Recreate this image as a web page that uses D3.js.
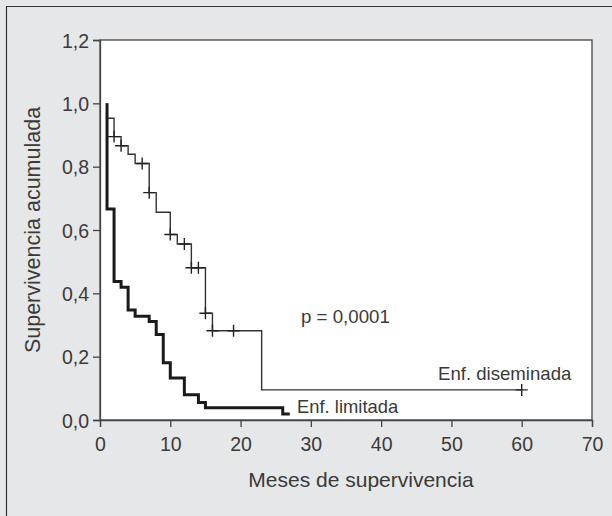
<!DOCTYPE html>
<html>
<head>
<meta charset="utf-8">
<script src="https://cdn.jsdelivr.net/npm/d3@7"></script>
<style>
  body { margin: 0; background: #e6e7e8; }
  text { font-family: "Liberation Sans", Arial, sans-serif; fill: #3a3a3a; }
</style>
</head>
<body>
<div id="chart"></div>
<script>
var width = 612;
var height = 516;

// Enf. limitada (thick)
var limTimes = [1, 1, 2, 3, 4, 5, 7, 8, 9, 10, 12, 14, 15, 26, 27];
var limSurv = [1.0, 0.666, 0.437, 0.419, 0.347, 0.328, 0.311, 0.27, 0.181, 0.133, 0.08, 0.055, 0.039, 0.019, 0.019];

// Enf. diseminada (thin)
var disTimes = [1, 1, 2, 3, 4, 5, 7, 8, 10, 11, 13, 15, 16, 23, 60];
var disSurv = [1.0, 0.953, 0.895, 0.866, 0.839, 0.81, 0.718, 0.656, 0.586, 0.556, 0.481, 0.337, 0.282, 0.095, 0.095];
var disCensT = [2, 3, 6, 7, 10, 12, 13, 14, 15, 16, 19, 60];

var xTicks = [0, 10, 20, 30, 40, 50, 60, 70];
var yTicks = [0, 0.2, 0.4, 0.6, 0.8, 1.0, 1.2];

var x = d3.scaleLinear().domain([0, 70]).range([100, 592]);
var y = d3.scaleLinear().domain([0, 1.2]).range([420, 40]);

var svg = d3.select("#chart").append("svg")
    .attr("width", width)
    .attr("height", height);

// outer frame (left and top)
svg.append("path")
    .attr("d", "M6.5," + height + "V6.5H" + width)
    .attr("fill", "none")
    .attr("stroke", "#333")
    .attr("stroke-width", 1.2);

// plot box
svg.append("rect")
    .attr("x", x(0))
    .attr("y", y(1.2))
    .attr("width", x(70) - x(0))
    .attr("height", y(0) - y(1.2))
    .attr("fill", "#fff")
    .attr("stroke", "#444")
    .attr("stroke-width", 1.3);

var fmt = function(d) { return d.toFixed(1).replace(".", ","); };

var xAxis = svg.append("g")
    .attr("transform", "translate(0," + y(0) + ")")
    .call(d3.axisBottom(x).tickValues(xTicks).tickSize(7).tickPadding(10));

var yAxis = svg.append("g")
    .attr("transform", "translate(" + x(0) + ",0)")
    .call(d3.axisLeft(y).tickValues(yTicks).tickFormat(fmt).tickSize(7).tickPadding(4));

[xAxis, yAxis].forEach(function(a) {
    a.select(".domain").attr("stroke", "#444").attr("stroke-width", 1.3);
    a.selectAll(".tick line").attr("stroke", "#444").attr("stroke-width", 1.3);
    a.selectAll(".tick text")
        .attr("font-size", "19.5px")
        .style("font-family", "'Liberation Sans', Arial, sans-serif")
        .attr("fill", "#3a3a3a");
});
yAxis.selectAll(".tick text").attr("dy", "0.36em");

function stepPath(times, surv) {
    var pts = times.map(function(t, i) { return [x(t), y(surv[i])]; });
    return d3.line().curve(d3.curveStepAfter)(pts);
}

svg.append("path")
    .attr("d", stepPath(disTimes, disSurv))
    .attr("fill", "none")
    .attr("stroke", "#333")
    .attr("stroke-width", 1.4);

svg.append("path")
    .attr("d", stepPath(limTimes, limSurv))
    .attr("fill", "none")
    .attr("stroke", "#1a1a1a")
    .attr("stroke-width", 3);

// censor marks on thin curve
function survAt(t) {
    var s = disSurv[0];
    for (var i = 0; i < disTimes.length; i++) {
        if (disTimes[i] <= t) s = disSurv[i];
    }
    return s;
}

svg.selectAll(".cens")
    .data(disCensT)
    .enter()
    .append("path")
    .attr("class", "cens")
    .attr("d", function(t) {
        var cx = x(t), cy = y(survAt(t));
        return "M" + (cx - 6) + "," + cy + "H" + (cx + 6) + "M" + cx + "," + (cy - 6) + "V" + (cy + 6);
    })
    .attr("stroke", "#222")
    .attr("stroke-width", 1.4);

svg.append("text")
    .attr("x", 301)
    .attr("y", 323)
    .attr("font-size", "18.7px")
    .text("p = 0,0001");

svg.append("text")
    .attr("x", 438)
    .attr("y", 380)
    .attr("font-size", "18.6px")
    .text("Enf. diseminada");

svg.append("text")
    .attr("x", 297)
    .attr("y", 413)
    .attr("font-size", "18.4px")
    .text("Enf. limitada");

svg.append("text")
    .attr("x", 361)
    .attr("y", 487)
    .attr("text-anchor", "middle")
    .attr("font-size", "21px")
    .text("Meses de supervivencia");

svg.append("text")
    .attr("transform", "translate(40," + y(0.6) + ") rotate(-90)")
    .attr("text-anchor", "middle")
    .attr("font-size", "21.5px")
    .text("Supervivencia acumulada");
</script>
</body>
</html>
